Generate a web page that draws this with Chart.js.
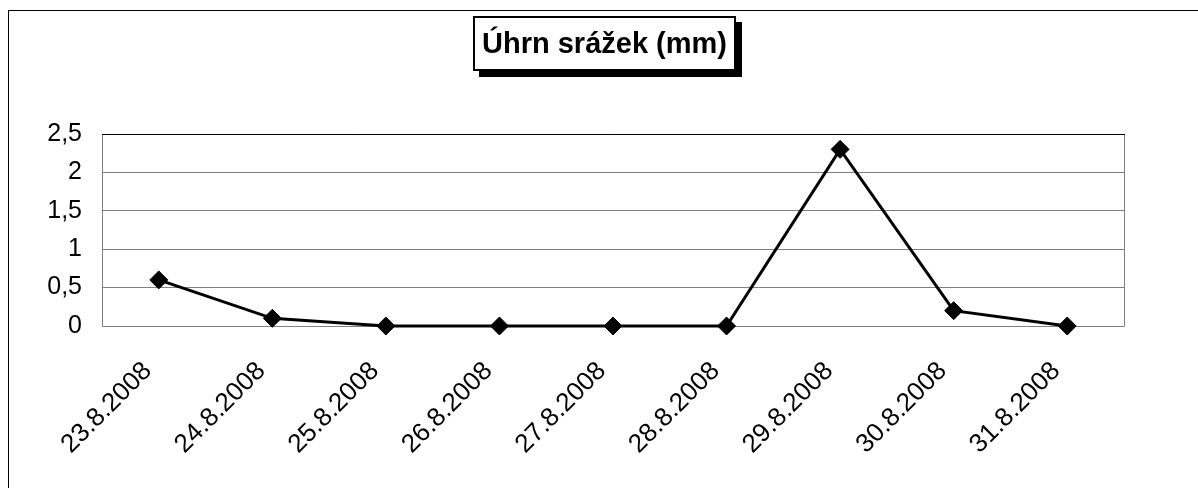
<!DOCTYPE html>
<html lang="cs">
<head>
  <title>Úhrn srážek</title>
  <meta charset="utf-8">
  <script src="https://cdn.jsdelivr.net/npm/chart.js@4.4.1/dist/chart.umd.min.js"></script>
  <style>
  body { margin: 0; background: #fff; font-family: "Liberation Sans", Arial, sans-serif; }
  #frame {
    position: absolute; left: 8px; top: 10px; width: 1200px; height: 490px;
    border-left: 1px solid #000; border-top: 1px solid #000;
  }
  #title {
    position: absolute; left: 473px; top: 16px; width: 259px; height: 51px;
    border: 2px solid #000; background: #fff;
    box-shadow: 6px 6px 0 #000;
    font-weight: bold; font-size: 29px; line-height: 51px; text-align: center;
    white-space: nowrap;
    z-index: 2;
  }
  .chart-container { position: absolute; left: 0; top: 0; width: 1198px; height: 488px; }
  </style>
</head>
<body>

<div id="frame"></div>
<div id="title">Úhrn srážek (mm)</div>
<div class="chart-container">
  <canvas id="canvas"></canvas>
</div>

<script>
  var dny = ['23.8.2008', '24.8.2008', '25.8.2008', '26.8.2008', '27.8.2008',
             '28.8.2008', '29.8.2008', '30.8.2008', '31.8.2008'];
  var srazky = [0.6, 0.1, 0, 0, 0, 0, 2.3, 0.2, 0];
  var yMax = 2.5;
  var yKrok = 0.5;

  // ramecek plochy grafu: horni cara cerna, ostatni sede
  var plotBorder = {
    id: 'plotBorder',
    beforeDatasetsDraw: function(chart) {
      var a = chart.chartArea;
      var ctx = chart.ctx;
      ctx.save();
      ctx.lineWidth = 1;
      ctx.strokeStyle = '#808080';
      ctx.beginPath();
      ctx.moveTo(a.left + 0.5, a.top);
      ctx.lineTo(a.left + 0.5, a.bottom + 0.5);
      ctx.lineTo(a.right + 0.5, a.bottom + 0.5);
      ctx.lineTo(a.right + 0.5, a.top);
      ctx.stroke();
      ctx.strokeStyle = '#000';
      ctx.beginPath();
      ctx.moveTo(a.left, a.top + 0.5);
      ctx.lineTo(a.right + 1, a.top + 0.5);
      ctx.stroke();
      ctx.restore();
    }
  };

  window.onload = function() {
    var ctx = document.getElementById('canvas').getContext('2d');
    window.myLine = new Chart(ctx, {
      type: 'line',
      data: {
        labels: dny,
        datasets: [{
          label: 'Úhrn srážek (mm)',
          data: srazky,
          borderColor: '#000',
          borderWidth: 3,
          backgroundColor: '#000',
          pointStyle: 'rectRot',
          pointRadius: 9,
          pointBorderWidth: 1,
          pointBackgroundColor: '#000',
          pointBorderColor: '#000',
          tension: 0,
          fill: false,
          clip: false
        }]
      },
      options: {
        responsive: true,
        maintainAspectRatio: false,
        animation: false,
        layout: { padding: { left: 0, top: 134, right: 74, bottom: 0 } },
        plugins: {
          legend: { display: false },
          title: { display: false },
          tooltip: { enabled: false }
        },
        scales: {
          x: {
            offset: true,
            grid: { display: false, drawTicks: false },
            border: { display: false },
            ticks: {
              color: '#000',
              font: { family: 'Liberation Sans', size: 26 },
              minRotation: 45,
              maxRotation: 45,
              padding: 30,
              labelOffset: -11,
              autoSkip: false
            },
            afterFit: function(scale) { scale.height = 162; }
          },
          y: {
            min: 0,
            max: yMax,
            grid: { color: '#808080', lineWidth: 1, drawTicks: false },
            border: { display: false },
            ticks: {
              stepSize: yKrok,
              color: '#000',
              padding: 20,
              font: { family: 'Liberation Sans', size: 25 },
              callback: function(v) { return String(v).replace('.', ','); }
            },
            afterFit: function(scale) { scale.width = 102; }
          }
        }
      },
      plugins: [plotBorder]
    });
  };
</script>

</body>
</html>
